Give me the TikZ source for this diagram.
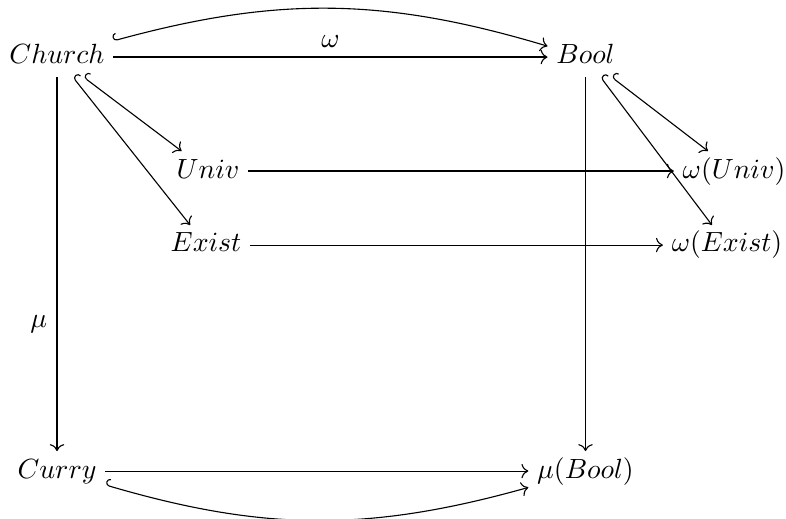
\documentclass[tikz,border=0pt]{standalone}
\usetikzlibrary{arrows.meta}
\begin{document}
\begin{tikzpicture}[x=0.36pt,y=0.36pt,
  obj/.style={inner xsep=3pt,inner ysep=2pt,text height=7.5pt,text depth=2.5pt,anchor=base},
  arr/.style={-{Computer Modern Rightarrow}, line width=0.4pt},
  hk/.style={{Hooks[right,length=1.4pt,width=5.2pt]}-{Computer Modern Rightarrow}, line width=0.4pt}]
\useasboundingbox (0,0) rectangle (786,-519);
\node[obj] (church) at (57,-64) {$Church$};
\node[obj] (bool) at (585.5,-64) {$Bool$};
\node[obj] (univ) at (208,-178) {$Univ$};
\node[obj] (wuniv) at (734,-178) {$\omega(Univ)$};
\node[obj] (exist) at (206,-252) {$Exist$};
\node[obj] (wexist) at (727,-252) {$\omega(Exist)$};
\node[obj] (curry) at (57,-478) {$Curry$};
\node[obj] (mubool) at (585.5,-478) {$\mu(Bool)$};
\draw[arr] (church) -- node[above]{$\omega$} (bool);
\draw[hk] (church) to[bend left=16] (bool);
\draw[hk] (church) -- (univ);
\draw[hk] (church) -- (exist);
\draw[arr] (church) -- node[pos=0.66,left]{$\mu$} (curry);
\draw[arr] (bool) -- (mubool);
\draw[hk] (bool) -- (wuniv);
\draw[hk] (bool) -- (wexist);
\draw[arr] (univ) -- (wuniv);
\draw[arr] (exist) -- (wexist);
\draw[arr] (curry) -- (mubool);
\draw[hk] (curry) to[bend right=16] (mubool);
\end{tikzpicture}
\end{document}
